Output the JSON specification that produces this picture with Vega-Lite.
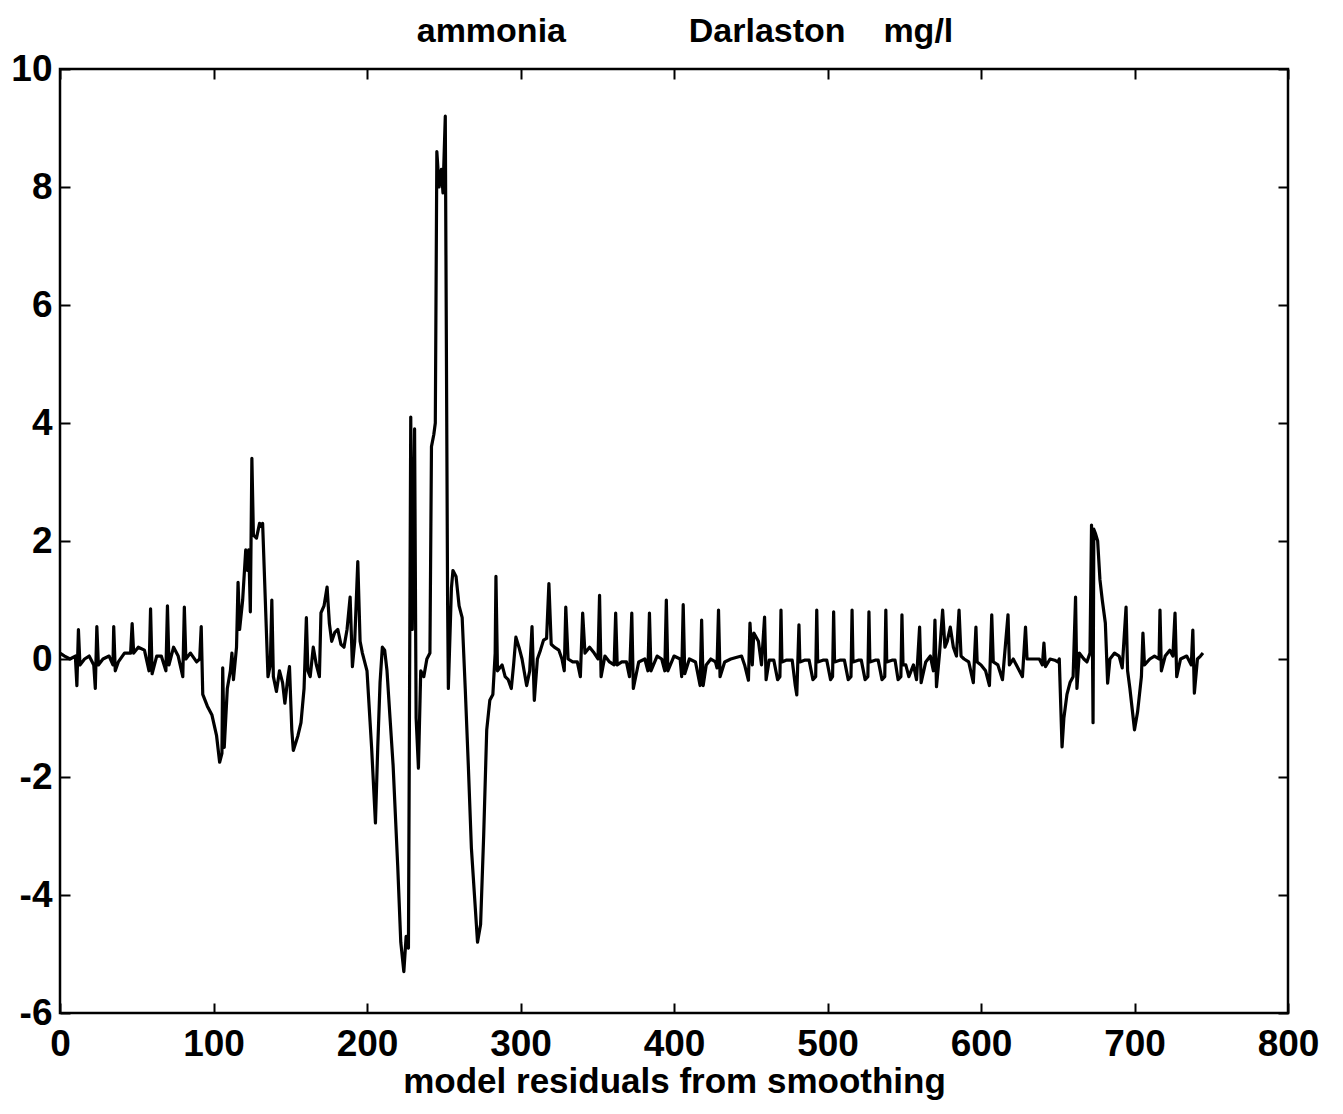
{
  "$schema": "https://vega.github.io/schema/vega-lite/v6.json",
  "width": 1228,
  "height": 944,
  "autosize": {"type": "none"},
  "padding": {"left": 60, "top": 69, "right": 55, "bottom": 101},
  "background": "white",
  "config": {
    "view": {"stroke": "black", "strokeWidth": 2.5},
    "font": "Liberation Sans",
    "axis": {
      "grid": false,
      "domain": false,
      "tickColor": "black",
      "tickWidth": 2,
      "tickSize": -10,
      "labelFont": "Liberation Sans",
      "labelFontWeight": "bold",
      "labelFontSize": 37,
      "labelColor": "black",
      "titleFont": "Liberation Sans",
      "titleFontWeight": "bold",
      "titleFontSize": 35,
      "titleColor": "black",
      "labelFlush": false,
      "labelOverlap": false
    }
  },
  "title": {
    "text": "ammonia\u00a0\u00a0\u00a0\u00a0\u00a0\u00a0\u00a0\u00a0\u00a0\u00a0\u00a0\u00a0\u00a0Darlaston\u00a0\u00a0\u00a0\u00a0mg/l",
    "anchor": "middle",
    "frame": "group",
    "font": "Liberation Sans",
    "fontSize": 34,
    "fontWeight": "bold",
    "color": "black",
    "offset": 1,
    "dx": 11
  },
  "data": {
    "values": [
      {"x":0,"y":0.1},{"x":3,"y":0.05},{"x":6.5,"y":0.0},{"x":10,"y":0.05},{"x":11,"y":-0.45},{"x":12,"y":0.5},{"x":13,"y":-0.1},{"x":16,"y":0.0},{"x":19,"y":0.05},{"x":22,"y":-0.1},{"x":23,"y":-0.5},{"x":24,"y":0.55},{"x":25,"y":-0.1},{"x":28,"y":0.0},{"x":32,"y":0.05},{"x":34.5,"y":-0.1},{"x":35,"y":0.55},{"x":36,"y":-0.2},{"x":38,"y":-0.05},{"x":42,"y":0.1},{"x":46,"y":0.1},{"x":47,"y":0.6},{"x":48,"y":0.1},{"x":51,"y":0.2},{"x":55,"y":0.15},{"x":58,"y":-0.2},{"x":59,"y":0.85},{"x":60,"y":-0.25},{"x":63,"y":0.05},{"x":66,"y":0.05},{"x":69,"y":-0.2},{"x":70,"y":0.9},{"x":71,"y":-0.1},{"x":74,"y":0.2},{"x":77,"y":0.05},{"x":80,"y":-0.3},{"x":81,"y":0.88},{"x":82,"y":0.0},{"x":85,"y":0.1},{"x":89,"y":-0.05},{"x":91,"y":0.0},{"x":92,"y":0.55},{"x":93,"y":-0.6},{"x":96,"y":-0.8},{"x":99,"y":-0.95},{"x":102,"y":-1.3},{"x":104,"y":-1.75},{"x":105.5,"y":-1.6},{"x":106,"y":-0.15},{"x":107,"y":-1.5},{"x":109,"y":-0.5},{"x":111,"y":-0.2},{"x":112,"y":0.1},{"x":113,"y":-0.35},{"x":115,"y":0.2},{"x":116,"y":1.3},{"x":117,"y":0.5},{"x":119,"y":1.0},{"x":121,"y":1.85},{"x":122,"y":1.5},{"x":123,"y":1.85},{"x":124,"y":0.8},{"x":125,"y":3.4},{"x":126,"y":2.1},{"x":128,"y":2.05},{"x":130,"y":2.3},{"x":131,"y":2.25},{"x":132,"y":2.3},{"x":135.5,"y":-0.3},{"x":137,"y":-0.1},{"x":138,"y":1.0},{"x":139,"y":-0.3},{"x":141,"y":-0.55},{"x":143,"y":-0.2},{"x":145,"y":-0.4},{"x":146.5,"y":-0.75},{"x":148.5,"y":-0.3},{"x":149.5,"y":-0.13},{"x":151,"y":-1.2},{"x":152,"y":-1.55},{"x":155,"y":-1.3},{"x":157,"y":-1.08},{"x":159,"y":-0.5},{"x":160.5,"y":0.7},{"x":161.5,"y":-0.2},{"x":163,"y":-0.3},{"x":165,"y":0.2},{"x":167,"y":-0.1},{"x":169,"y":-0.3},{"x":170,"y":0.78},{"x":172,"y":0.9},{"x":174,"y":1.22},{"x":175.5,"y":0.6},{"x":177,"y":0.3},{"x":179,"y":0.45},{"x":181,"y":0.5},{"x":183,"y":0.25},{"x":185,"y":0.2},{"x":187,"y":0.5},{"x":189,"y":1.05},{"x":190.5,"y":-0.13},{"x":192,"y":0.3},{"x":194,"y":1.65},{"x":195.5,"y":0.3},{"x":197,"y":0.1},{"x":200,"y":-0.2},{"x":203,"y":-1.5},{"x":205.5,"y":-2.78},{"x":207,"y":-1.5},{"x":208.5,"y":-0.4},{"x":210,"y":0.2},{"x":211.5,"y":0.15},{"x":213,"y":-0.19},{"x":215,"y":-1.0},{"x":217,"y":-1.8},{"x":220,"y":-3.5},{"x":222,"y":-4.8},{"x":224,"y":-5.3},{"x":225.5,"y":-4.7},{"x":227,"y":-4.9},{"x":228.5,"y":4.1},{"x":229.5,"y":0.5},{"x":231,"y":3.9},{"x":232,"y":-1.0},{"x":233.5,"y":-1.85},{"x":235,"y":-0.2},{"x":237,"y":-0.3},{"x":239,"y":0.0},{"x":241,"y":0.1},{"x":242,"y":3.6},{"x":243.5,"y":3.8},{"x":244.5,"y":4.0},{"x":245.5,"y":8.6},{"x":247,"y":8.0},{"x":248.5,"y":8.3},{"x":249.5,"y":7.9},{"x":251,"y":9.2},{"x":252.5,"y":1.0},{"x":253,"y":-0.5},{"x":255,"y":1.2},{"x":256,"y":1.5},{"x":258,"y":1.4},{"x":260,"y":0.9},{"x":262,"y":0.7},{"x":264,"y":-0.5},{"x":266,"y":-1.8},{"x":268,"y":-3.2},{"x":270,"y":-4.0},{"x":272,"y":-4.8},{"x":274,"y":-4.5},{"x":276,"y":-3.0},{"x":278,"y":-1.2},{"x":280,"y":-0.7},{"x":282,"y":-0.6},{"x":283.5,"y":0.1},{"x":284,"y":1.4},{"x":285,"y":-0.2},{"x":288,"y":-0.1},{"x":290,"y":-0.3},{"x":292,"y":-0.35},{"x":294,"y":-0.5},{"x":295.5,"y":-0.1},{"x":297,"y":0.37},{"x":299,"y":0.2},{"x":301,"y":0.0},{"x":304,"y":-0.45},{"x":306,"y":-0.2},{"x":307.5,"y":0.55},{"x":309,"y":-0.7},{"x":311,"y":0.0},{"x":313,"y":0.15},{"x":315,"y":0.32},{"x":317,"y":0.35},{"x":318.5,"y":1.28},{"x":320,"y":0.25},{"x":322,"y":0.2},{"x":325,"y":0.15},{"x":327,"y":0.0},{"x":328.5,"y":-0.2},{"x":329.5,"y":0.88},{"x":331,"y":0.0},{"x":334,"y":-0.05},{"x":337,"y":-0.05},{"x":339,"y":-0.3},{"x":340.5,"y":0.78},{"x":342,"y":0.1},{"x":345,"y":0.2},{"x":348,"y":0.1},{"x":350.5,"y":0.0},{"x":351.5,"y":1.08},{"x":352.5,"y":-0.3},{"x":355,"y":0.05},{"x":358,"y":-0.05},{"x":361,"y":-0.1},{"x":362,"y":0.78},{"x":363,"y":-0.1},{"x":366,"y":-0.05},{"x":369,"y":-0.05},{"x":371,"y":-0.3},{"x":372.5,"y":0.78},{"x":373.5,"y":-0.5},{"x":377,"y":-0.05},{"x":381,"y":0.0},{"x":383,"y":-0.2},{"x":384,"y":0.78},{"x":385,"y":-0.2},{"x":389,"y":0.05},{"x":392,"y":0.0},{"x":394,"y":-0.2},{"x":395,"y":1.0},{"x":396,"y":-0.2},{"x":400,"y":0.05},{"x":404,"y":0.0},{"x":405,"y":-0.3},{"x":406,"y":0.92},{"x":407,"y":-0.25},{"x":410,"y":0.0},{"x":414,"y":-0.05},{"x":417,"y":-0.45},{"x":418,"y":0.66},{"x":419,"y":-0.45},{"x":421,"y":-0.1},{"x":424,"y":0.0},{"x":427,"y":-0.05},{"x":428,"y":-0.15},{"x":429,"y":0.83},{"x":430,"y":-0.3},{"x":433,"y":-0.05},{"x":437,"y":0.0},{"x":441,"y":0.03},{"x":444,"y":0.05},{"x":446,"y":-0.1},{"x":448.5,"y":-0.36},{"x":449.5,"y":0.61},{"x":451,"y":-0.1},{"x":452,"y":0.44},{"x":455,"y":0.3},{"x":457,"y":-0.1},{"x":459,"y":0.71},{"x":460,"y":-0.35},{"x":462,"y":-0.02},
      {"x":465,"y":-0.02},{"x":467.5,"y":-0.35},{"x":469,"y":-0.3},{"x":469.7,"y":0.83},{"x":470.3,"y":-0.05},{"x":473,"y":-0.02},
      {"x":477,"y":-0.02},{"x":479,"y":-0.45},{"x":480,"y":-0.61},{"x":481.4,"y":0.58},{"x":482,"y":-0.05},{"x":485,"y":-0.02},
      {"x":488,"y":-0.02},{"x":490.5,"y":-0.35},{"x":492.3,"y":-0.3},{"x":493,"y":0.83},{"x":493.6,"y":-0.05},{"x":497,"y":-0.02},
      {"x":499.5,"y":-0.02},{"x":502,"y":-0.35},{"x":503.3,"y":-0.3},{"x":504,"y":0.8},{"x":504.6,"y":-0.05},{"x":508,"y":-0.02},
      {"x":511,"y":-0.02},{"x":513.5,"y":-0.35},{"x":515.3,"y":-0.3},{"x":516,"y":0.83},{"x":516.6,"y":-0.05},{"x":520,"y":-0.02},
      {"x":522,"y":-0.02},{"x":524.5,"y":-0.35},{"x":526.3,"y":-0.3},{"x":527,"y":0.8},{"x":527.6,"y":-0.05},{"x":531,"y":-0.02},
      {"x":533,"y":-0.02},{"x":535.5,"y":-0.35},{"x":537.3,"y":-0.3},{"x":538,"y":0.83},{"x":538.6,"y":-0.05},{"x":542,"y":-0.02},
      {"x":544,"y":-0.02},{"x":546,"y":-0.35},{"x":547.8,"y":-0.3},{"x":548.5,"y":0.75},{"x":549.2,"y":-0.1},
      {"x":551,"y":-0.1},{"x":553,"y":-0.3},{"x":556,"y":-0.1},{"x":558,"y":-0.35},{"x":560,"y":0.54},{"x":561,"y":-0.4},{"x":564,"y":-0.05},{"x":567,"y":0.05},{"x":569,"y":-0.2},{"x":570,"y":0.66},{"x":571,"y":-0.47},{"x":573,"y":0.1},{"x":575,"y":0.83},{"x":576.5,"y":0.2},{"x":578,"y":0.3},{"x":580,"y":0.54},{"x":582,"y":0.2},{"x":584,"y":0.05},{"x":585.7,"y":0.83},{"x":587,"y":0.05},{"x":589,"y":0.0},{"x":592,"y":-0.05},{"x":595,"y":-0.4},{"x":596.7,"y":0.54},{"x":597.5,"y":-0.05},{"x":600,"y":-0.1},{"x":603,"y":-0.2},{"x":605.5,"y":-0.45},{"x":607,"y":0.75},{"x":608,"y":-0.05},{"x":611,"y":-0.1},{"x":614,"y":-0.35},{"x":617.6,"y":0.75},{"x":618.5,"y":-0.1},{"x":621,"y":0.0},{"x":625,"y":-0.2},{"x":627,"y":-0.3},{"x":629,"y":0.54},{"x":630,"y":0.0},{"x":634,"y":0.0},{"x":638,"y":0.0},{"x":640,"y":-0.1},{"x":641,"y":0.27},{"x":642,"y":-0.13},{"x":645,"y":0.0},{"x":648,"y":-0.02},{"x":650,"y":-0.05},{"x":651,"y":0.0},{"x":652.8,"y":-1.49},{"x":654,"y":-1.0},{"x":656,"y":-0.6},{"x":658,"y":-0.4},{"x":660,"y":-0.3},{"x":661.6,"y":1.05},{"x":662.5,"y":-0.5},{"x":664,"y":0.1},{"x":667,"y":0.0},{"x":669,"y":-0.05},{"x":671,"y":0.1},{"x":672,"y":2.27},{"x":673,"y":-1.08},{"x":673.5,"y":2.2},{"x":674.5,"y":2.13},{"x":676,"y":2.0},{"x":677.5,"y":1.34},{"x":679,"y":1.0},{"x":681,"y":0.61},{"x":682.5,"y":-0.41},{"x":684,"y":0.0},{"x":687,"y":0.1},{"x":690,"y":0.05},{"x":692,"y":-0.15},{"x":694.5,"y":0.88},{"x":695.5,"y":-0.2},{"x":697,"y":-0.5},{"x":700,"y":-1.2},{"x":702,"y":-0.9},{"x":704.5,"y":-0.3},{"x":705.5,"y":0.44},{"x":706.5,"y":-0.1},{"x":710,"y":0.0},{"x":713,"y":0.05},{"x":716,"y":0.0},{"x":716.6,"y":0.83},{"x":717.5,"y":-0.2},{"x":720,"y":0.05},{"x":723,"y":0.15},{"x":725,"y":0.05},{"x":726.4,"y":0.78},{"x":727.5,"y":-0.3},{"x":730,"y":0.0},{"x":734,"y":0.05},{"x":737,"y":-0.1},{"x":738,"y":0.49},{"x":739,"y":-0.58},{"x":741,"y":0.0},{"x":743,"y":0.05},{"x":744.6,"y":0.1}
    ]
  },
  "layer": [
    {
      "mark": {"type": "line", "color": "black", "strokeWidth": 3.2, "strokeJoin": "round"},
      "encoding": {
        "x": {"field": "x", "type": "quantitative", "scale": {"domain": [0, 800], "nice": false, "zero": false},
              "axis": {"orient": "bottom", "values": [0,100,200,300,400,500,600,700,800], "labelPadding": 23, "labelExpr": "'' + datum.value", "title": "model residuals from smoothing", "titlePadding": 2}},
        "y": {"field": "y", "type": "quantitative", "scale": {"domain": [-6, 10], "nice": false, "zero": false},
              "axis": {"orient": "left", "values": [-6,-4,-2,0,2,4,6,8,10], "labelPadding": 18, "labelExpr": "'' + datum.value", "title": null}}
      }
    },
    {
      "mark": {"type": "line", "opacity": 0},
      "encoding": {
        "x": {"field": "x", "type": "quantitative", "scale": {"domain": [0, 800], "nice": false, "zero": false},
              "axis": {"orient": "top", "values": [0,100,200,300,400,500,600,700,800], "labels": false, "title": null}},
        "y": {"field": "y", "type": "quantitative", "scale": {"domain": [-6, 10], "nice": false, "zero": false},
              "axis": {"orient": "right", "values": [-6,-4,-2,0,2,4,6,8,10], "labels": false, "title": null}}
      }
    }
  ],
  "resolve": {"axis": {"x": "independent", "y": "independent"}}
}
